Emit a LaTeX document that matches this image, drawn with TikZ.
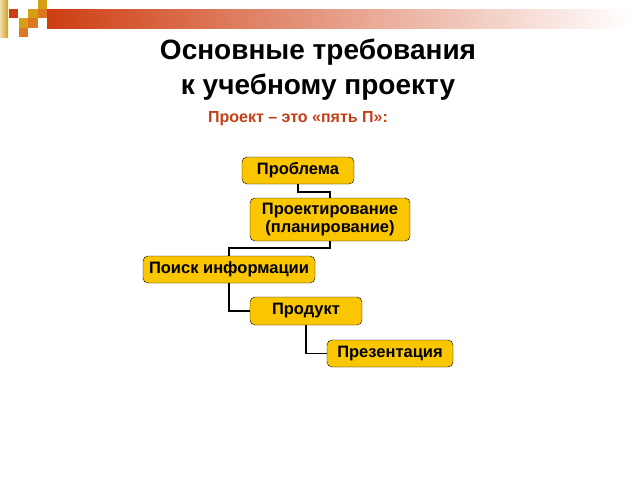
\documentclass[tikz,border=0pt]{standalone}
\usepackage{fontspec}
\setmainfont{Liberation Sans}
\usepackage{tikz}
\usetikzlibrary{positioning}
\definecolor{headred}{RGB}{206,62,18}
\definecolor{headgold}{RGB}{212,160,22}
\definecolor{headorange}{RGB}{224,118,32}
\definecolor{boxgold}{RGB}{250,198,0}
\definecolor{subred}{RGB}{196,62,22}

\begin{document}
\begin{tikzpicture}[x=1pt,y=-1pt,
    stage/.style={draw=black, fill=boxgold, rounded corners=5pt, inner sep=0pt,
      font=\bfseries\fontsize{16.5}{18}\selectfont, align=center},
    link/.style={draw=black, line width=1.5pt}]
    \useasboundingbox[fill=white] (0,0) rectangle (640,480);
    % header strip
    \shade[left color=headgold!35, right color=headgold] (0,0) rectangle (8,37);
    \fill[headred] (9,9) rectangle (18,18);
    \fill[headgold] (38,0) rectangle (47,9);
    \fill[headgold] (28,9) rectangle (38,18);
    \fill[headorange] (38,9) rectangle (47,18);
    \fill[headgold] (19,18) rectangle (28,28);
    \fill[headorange] (28,18) rectangle (38,28);
    \fill[headorange] (19,28) rectangle (28,37);
    \shade[left color=headred, right color=white] (47,9) rectangle (630,28);
    % title
    \node[font=\bfseries\fontsize{28}{35}\selectfont, align=center] (title) at (318,70)
      {Основные требования\\ к учебному проекту};
    \node[font=\bfseries\fontsize{16}{18}\selectfont, text=subred] (sub) at (298,119)
      {Проект – это «пять П»:};
    % the five stages
    \node[stage, minimum width=112pt, minimum height=27pt] (problem) at (298,170.5) {Проблема};
    \node[stage, minimum width=160pt, minimum height=43pt] (design) at (330,219.5)
      {Проектирование\\(планирование)};
    \node[stage, minimum width=172pt, minimum height=27pt] (search) at (229,269.5) {Поиск информации};
    \node[stage, minimum width=112pt, minimum height=28pt] (product) at (306,311) {Продукт};
    \node[stage, minimum width=126pt, minimum height=27pt] (present) at (390,353.5) {Презентация};
    % connectors
    \draw[link] (problem.south) -- ++(0,8) -| (design.north);
    \draw[link] (design.south) -- ++(0,7) -| (search.north);
    \draw[link] (search.south) |- (product.west);
    \draw[link] (product.south) |- (present.west);
\end{tikzpicture}
\end{document}
